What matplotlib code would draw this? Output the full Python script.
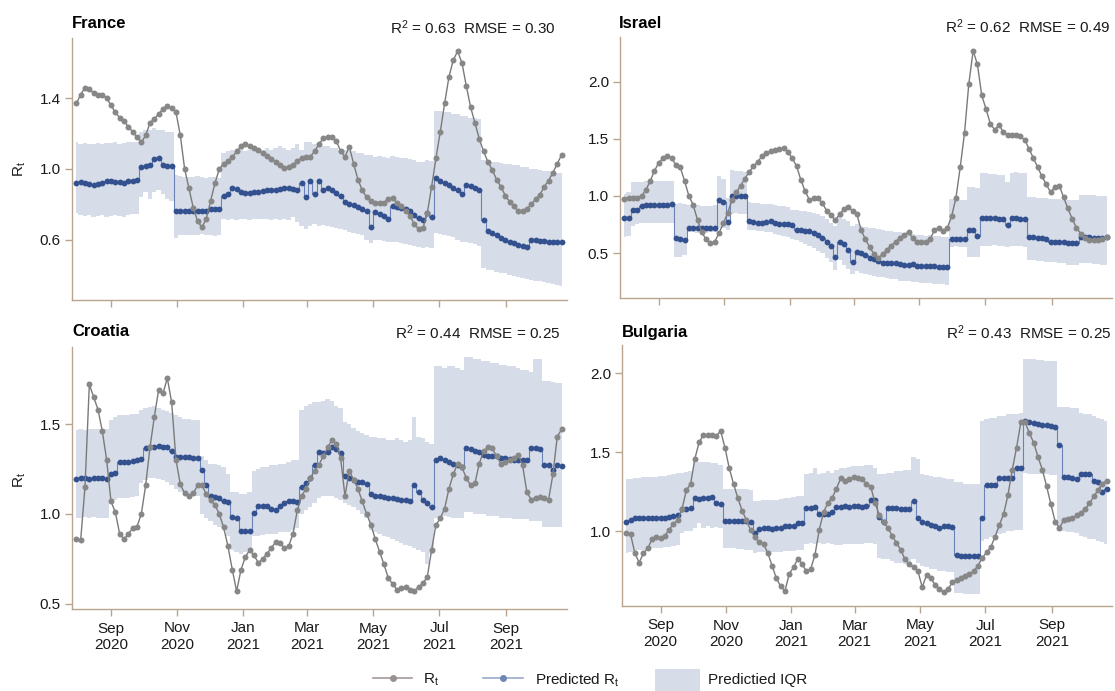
import numpy as np
import pandas as pd
import matplotlib
matplotlib.use("Agg")
import matplotlib.pyplot as plt
from matplotlib.lines import Line2D
from matplotlib.patches import Rectangle

plt.rcParams["font.family"] = ["Liberation Sans", "DejaVu Sans"]
plt.rcParams["mathtext.fontset"] = "custom"
plt.rcParams["mathtext.rm"] = "Liberation Sans"
plt.rcParams["mathtext.it"] = "Liberation Sans"
plt.rcParams["mathtext.default"] = "regular"

# ---------------------------------------------------------------- data
dates = pd.date_range("2020-07-31", periods=113, freq="4D")

france_rt = [
    1.37, 1.42, 1.46, 1.45, 1.43, 1.42, 1.42, 1.40, 1.36, 1.32,
    1.29, 1.27, 1.24, 1.21, 1.18, 1.15, 1.19, 1.26, 1.285, 1.31,
    1.34, 1.355, 1.345, 1.32, 1.19, 1.00, 0.89, 0.78, 0.705, 0.67,
    0.72, 0.82, 0.92, 1.00, 1.03, 1.045, 1.065, 1.10, 1.128, 1.14,
    1.13, 1.12, 1.105, 1.09, 1.075, 1.055, 1.04, 1.02, 1.005, 1.01,
    1.025, 1.045, 1.06, 1.065, 1.07, 1.10, 1.14, 1.175, 1.18, 1.18,
    1.16, 1.10, 1.07, 1.125, 1.03, 0.94, 0.88, 0.84, 0.82, 0.81,
    0.81, 0.81, 0.83, 0.835, 0.81, 0.79, 0.765, 0.735, 0.69, 0.66,
    0.665, 0.75, 0.90, 1.06, 1.21, 1.37, 1.52, 1.615, 1.665, 1.60,
    1.47, 1.35, 1.26, 1.17, 1.10, 1.04, 0.995, 0.94, 0.90, 0.85,
    0.815, 0.79, 0.76, 0.765, 0.775, 0.80, 0.83, 0.855, 0.90, 0.935,
    0.98, 1.03, 1.08]
france_pred = [
    0.92, 0.925, 0.92, 0.915, 0.91, 0.915, 0.92, 0.93, 0.935, 0.925,
    0.925, 0.92, 0.93, 0.935, 0.94, 1.01, 1.015, 1.02, 1.055, 1.06,
    1.02, 1.015, 1.015, 0.765, 0.76, 0.76, 0.76, 0.76, 0.76, 0.76,
    0.76, 0.775, 0.775, 0.775, 0.85, 0.86, 0.89, 0.885, 0.87, 0.865,
    0.865, 0.87, 0.87, 0.875, 0.88, 0.88, 0.88, 0.885, 0.895, 0.89,
    0.885, 0.88, 0.92, 0.84, 0.93, 0.86, 0.93, 0.88, 0.89, 0.88,
    0.865, 0.85, 0.815, 0.805, 0.795, 0.785, 0.775, 0.765, 0.67, 0.755,
    0.745, 0.735, 0.72, 0.79, 0.785, 0.78, 0.775, 0.765, 0.74, 0.725,
    0.71, 0.75, 0.73, 0.95, 0.935, 0.92, 0.91, 0.895, 0.88, 0.86,
    0.91, 0.905, 0.895, 0.88, 0.71, 0.65, 0.64, 0.625, 0.61, 0.60,
    0.59, 0.58, 0.57, 0.565, 0.56, 0.60, 0.60, 0.595, 0.595, 0.59,
    0.59, 0.585, 0.585]
france_iqr_hi = [
    1.15, 1.14, 1.145, 1.14, 1.14, 1.145, 1.14, 1.145, 1.145, 1.15,
    1.14, 1.145, 1.15, 1.15, 1.15, 1.21, 1.22, 1.22, 1.23, 1.22,
    1.22, 1.21, 1.21, 0.965, 0.96, 0.955, 0.955, 0.955, 0.96, 0.955,
    0.95, 0.955, 0.955, 0.95, 1.09, 1.10, 1.11, 1.10, 1.12, 1.10,
    1.11, 1.12, 1.10, 1.11, 1.12, 1.11, 1.12, 1.13, 1.12, 1.11,
    1.12, 1.14, 1.11, 1.15, 1.15, 1.14, 1.14, 1.13, 1.13, 1.12,
    1.12, 1.11, 1.11, 1.10, 1.10, 1.09, 1.09, 1.08, 1.08, 1.07,
    1.075, 1.065, 1.06, 1.075, 1.07, 1.06, 1.06, 1.055, 1.05, 1.04,
    1.04, 1.05, 1.045, 1.33, 1.33, 1.32, 1.32, 1.31, 1.31, 1.30,
    1.30, 1.29, 1.29, 1.28, 1.05, 1.05, 1.04, 1.04, 1.035, 1.03,
    1.03, 1.02, 1.02, 1.01, 1.01, 1.00, 1.00, 0.995, 0.99, 0.99,
    0.985, 0.98, 0.975]
france_iqr_lo = [
    0.75, 0.74, 0.735, 0.74, 0.73, 0.735, 0.74, 0.73, 0.735, 0.74,
    0.735, 0.73, 0.74, 0.745, 0.745, 0.84, 0.87, 0.83, 0.87, 0.88,
    0.86, 0.83, 0.82, 0.61, 0.625, 0.63, 0.63, 0.625, 0.63, 0.635,
    0.63, 0.63, 0.62, 0.63, 0.72, 0.71, 0.72, 0.71, 0.72, 0.72,
    0.71, 0.72, 0.72, 0.715, 0.72, 0.71, 0.72, 0.71, 0.72, 0.71,
    0.73, 0.70, 0.68, 0.66, 0.68, 0.69, 0.68, 0.685, 0.68, 0.67,
    0.665, 0.66, 0.655, 0.645, 0.64, 0.635, 0.625, 0.60, 0.58, 0.60,
    0.60, 0.595, 0.59, 0.59, 0.585, 0.58, 0.575, 0.57, 0.565, 0.56,
    0.555, 0.56, 0.555, 0.64, 0.635, 0.63, 0.62, 0.615, 0.60, 0.59,
    0.59, 0.58, 0.575, 0.565, 0.44, 0.43, 0.43, 0.42, 0.41, 0.41,
    0.40, 0.395, 0.39, 0.385, 0.38, 0.375, 0.37, 0.365, 0.36, 0.355,
    0.35, 0.345, 0.34]

israel_rt = [
    0.97, 0.98, 0.98, 0.985, 1.00, 1.05, 1.13, 1.22, 1.29, 1.33,
    1.35, 1.33, 1.27, 1.25, 1.13, 1.00, 0.92, 0.79, 0.68, 0.62,
    0.585, 0.60, 0.675, 0.76, 0.85, 0.965, 1.03, 1.09, 1.15, 1.21,
    1.26, 1.30, 1.35, 1.375, 1.39, 1.405, 1.41, 1.415, 1.385, 1.33,
    1.26, 1.14, 1.04, 0.965, 0.98, 0.98, 0.935, 0.87, 0.83, 0.79,
    0.84, 0.885, 0.905, 0.87, 0.84, 0.70, 0.62, 0.55, 0.49, 0.46,
    0.49, 0.53, 0.565, 0.60, 0.63, 0.66, 0.68, 0.63, 0.60, 0.60,
    0.595, 0.62, 0.70, 0.72, 0.69, 0.72, 0.82, 0.98, 1.25, 1.55,
    1.98, 2.27, 2.15, 1.88, 1.76, 1.63, 1.58, 1.62, 1.56, 1.53,
    1.535, 1.535, 1.52, 1.49, 1.41, 1.33, 1.25, 1.17, 1.10, 1.03,
    1.08, 1.09, 0.99, 0.89, 0.80, 0.72, 0.67, 0.635, 0.61, 0.61,
    0.615, 0.62, 0.64]
israel_pred = [
    0.805, 0.81, 0.875, 0.88, 0.915, 0.92, 0.92, 0.92, 0.92, 0.92,
    0.92, 0.925, 0.63, 0.625, 0.61, 0.72, 0.72, 0.72, 0.72, 0.72,
    0.72, 0.72, 0.96, 0.945, 0.77, 1.00, 1.00, 1.00, 1.00, 0.78,
    0.775, 0.765, 0.76, 0.775, 0.78, 0.765, 0.755, 0.75, 0.75, 0.745,
    0.705, 0.70, 0.695, 0.69, 0.675, 0.66, 0.635, 0.60, 0.56, 0.47,
    0.60, 0.58, 0.53, 0.42, 0.51, 0.50, 0.48, 0.46, 0.445, 0.43,
    0.415, 0.41, 0.41, 0.41, 0.405, 0.40, 0.40, 0.405, 0.39, 0.39,
    0.39, 0.385, 0.385, 0.38, 0.38, 0.38, 0.62, 0.62, 0.62, 0.62,
    0.70, 0.70, 0.65, 0.805, 0.805, 0.805, 0.805, 0.80, 0.80, 0.745,
    0.805, 0.805, 0.80, 0.80, 0.64, 0.64, 0.635, 0.63, 0.625, 0.60,
    0.60, 0.595, 0.595, 0.59, 0.59, 0.59, 0.64, 0.64, 0.64, 0.635,
    0.635, 0.635, 0.64]
israel_iqr_hi = [
    1.02, 1.03, 1.12, 1.12, 1.125, 1.13, 1.13, 1.13, 1.13, 1.13,
    1.13, 1.13, 0.93, 0.94, 0.93, 0.92, 0.91, 0.92, 0.91, 0.91,
    0.91, 0.92, 1.17, 1.15, 0.98, 1.23, 1.22, 1.22, 1.21, 0.95,
    0.94, 0.94, 0.93, 0.93, 0.925, 0.92, 0.91, 0.91, 0.90, 0.88,
    0.88, 0.87, 0.87, 0.86, 0.85, 0.84, 0.82, 0.80, 0.76, 0.74,
    0.82, 0.80, 0.78, 0.74, 0.75, 0.74, 0.73, 0.72, 0.72, 0.71,
    0.70, 0.69, 0.69, 0.68, 0.68, 0.67, 0.68, 0.67, 0.66, 0.66,
    0.65, 0.66, 0.65, 0.65, 0.64, 0.64, 0.97, 0.97, 0.96, 0.96,
    1.08, 1.08, 1.07, 1.20, 1.20, 1.19, 1.19, 1.18, 1.18, 1.12,
    1.20, 1.21, 1.20, 1.20, 0.99, 0.99, 0.98, 0.98, 0.98, 0.975,
    0.97, 0.97, 0.965, 0.965, 0.96, 0.96, 1.01, 1.01, 1.005, 1.005,
    1.00, 1.00, 0.995]
israel_iqr_lo = [
    0.64, 0.65, 0.74, 0.75, 0.76, 0.76, 0.76, 0.76, 0.765, 0.76,
    0.765, 0.76, 0.47, 0.47, 0.48, 0.68, 0.68, 0.675, 0.68, 0.675,
    0.68, 0.68, 0.72, 0.72, 0.70, 0.84, 0.85, 0.84, 0.84, 0.70,
    0.70, 0.69, 0.69, 0.68, 0.68, 0.67, 0.66, 0.65, 0.64, 0.62,
    0.61, 0.60, 0.58, 0.56, 0.54, 0.52, 0.50, 0.46, 0.42, 0.35,
    0.44, 0.40, 0.36, 0.32, 0.34, 0.33, 0.32, 0.31, 0.30, 0.29,
    0.29, 0.28, 0.27, 0.27, 0.26, 0.26, 0.26, 0.25, 0.25, 0.24,
    0.24, 0.24, 0.23, 0.23, 0.23, 0.22, 0.55, 0.56, 0.55, 0.55,
    0.47, 0.47, 0.47, 0.56, 0.56, 0.56, 0.57, 0.56, 0.56, 0.55,
    0.56, 0.56, 0.56, 0.55, 0.44, 0.44, 0.43, 0.43, 0.42, 0.42,
    0.42, 0.41, 0.41, 0.40, 0.40, 0.40, 0.41, 0.41, 0.41, 0.405,
    0.405, 0.40, 0.40]

croatia_rt = [
    0.86, 0.855, 1.15, 1.72, 1.65, 1.58, 1.46, 1.30, 1.07, 1.01,
    0.89, 0.86, 0.89, 0.92, 0.93, 1.00, 1.16, 1.37, 1.54, 1.69,
    1.67, 1.755, 1.62, 1.30, 1.165, 1.115, 1.10, 1.115, 1.16, 1.16,
    1.11, 1.075, 1.05, 1.00, 0.925, 0.82, 0.69, 0.57, 0.69, 0.76,
    0.80, 0.77, 0.73, 0.75, 0.78, 0.81, 0.845, 0.84, 0.81, 0.82,
    0.89, 1.02, 1.10, 1.14, 1.20, 1.24, 1.275, 1.32, 1.37, 1.41,
    1.39, 1.31, 1.10, 1.24, 1.19, 1.14, 1.07, 1.00, 0.94, 0.86,
    0.79, 0.72, 0.645, 0.61, 0.58, 0.59, 0.595, 0.58, 0.57, 0.595,
    0.615, 0.65, 0.80, 0.94, 0.975, 1.03, 1.14, 1.22, 1.28, 1.26,
    1.20, 1.16, 1.17, 1.28, 1.35, 1.37, 1.365, 1.32, 1.28, 1.29,
    1.30, 1.31, 1.33, 1.27, 1.12, 1.08, 1.09, 1.095, 1.09, 1.08,
    1.22, 1.43, 1.47]
croatia_pred = [
    1.195, 1.20, 1.20, 1.195, 1.20, 1.20, 1.20, 1.195, 1.22, 1.23,
    1.29, 1.29, 1.29, 1.295, 1.30, 1.305, 1.365, 1.37, 1.375, 1.38,
    1.375, 1.37, 1.35, 1.315, 1.315, 1.315, 1.315, 1.31, 1.31, 1.245,
    1.16, 1.10, 1.095, 1.09, 1.07, 1.065, 0.985, 0.98, 0.905, 0.905,
    0.905, 1.005, 1.045, 1.045, 1.045, 1.025, 1.02, 1.045, 1.06, 1.07,
    1.07, 1.065, 1.15, 1.17, 1.20, 1.27, 1.345, 1.34, 1.345, 1.37,
    1.36, 1.34, 1.21, 1.20, 1.19, 1.18, 1.175, 1.165, 1.11, 1.10,
    1.10, 1.095, 1.09, 1.09, 1.085, 1.08, 1.08, 1.07, 1.16, 1.12,
    1.08, 1.06, 1.04, 1.30, 1.31, 1.30, 1.29, 1.28, 1.27, 1.26,
    1.365, 1.36, 1.35, 1.345, 1.33, 1.325, 1.32, 1.32, 1.31, 1.31,
    1.305, 1.30, 1.30, 1.30, 1.30, 1.365, 1.365, 1.36, 1.27, 1.27,
    1.245, 1.27, 1.265]
croatia_iqr_hi = [
    1.465, 1.47, 1.465, 1.47, 1.47, 1.47, 1.475, 1.47, 1.52, 1.54,
    1.55, 1.55, 1.55, 1.555, 1.555, 1.58, 1.59, 1.595, 1.60, 1.59,
    1.58, 1.575, 1.56, 1.55, 1.54, 1.53, 1.53, 1.52, 1.52, 1.32,
    1.30, 1.28, 1.28, 1.27, 1.26, 1.22, 1.12, 1.12, 1.11, 1.11,
    1.12, 1.24, 1.25, 1.26, 1.26, 1.27, 1.27, 1.28, 1.28, 1.29,
    1.30, 1.30, 1.58, 1.60, 1.61, 1.62, 1.62, 1.63, 1.64, 1.63,
    1.60, 1.59, 1.51, 1.50, 1.48, 1.46, 1.45, 1.44, 1.43, 1.43,
    1.42, 1.42, 1.41, 1.41, 1.42, 1.41, 1.40, 1.41, 1.54, 1.43,
    1.42, 1.40, 1.39, 1.82, 1.82, 1.81, 1.82, 1.82, 1.81, 1.80,
    1.87, 1.87, 1.86, 1.86, 1.85, 1.85, 1.84, 1.84, 1.83, 1.83,
    1.82, 1.82, 1.81, 1.80, 1.80, 1.79, 1.86, 1.86, 1.74, 1.74,
    1.735, 1.73, 1.73]
croatia_iqr_lo = [
    0.975, 0.98, 0.985, 0.98, 0.985, 0.975, 0.98, 0.98, 1.06, 1.08,
    1.09, 1.09, 1.09, 1.095, 1.10, 1.17, 1.19, 1.20, 1.20, 1.195,
    1.19, 1.18, 1.16, 1.14, 1.12, 1.12, 1.11, 1.11, 1.10, 1.00,
    0.98, 0.96, 0.94, 0.93, 0.92, 0.88, 0.80, 0.79, 0.78, 0.79,
    0.80, 0.88, 0.88, 0.885, 0.89, 0.89, 0.89, 0.90, 0.90, 0.90,
    0.91, 0.92, 1.00, 1.02, 1.04, 1.06, 1.09, 1.10, 1.10, 1.10,
    1.09, 1.08, 1.06, 1.05, 1.04, 1.02, 1.00, 0.98, 0.91, 0.90,
    0.89, 0.88, 0.87, 0.86, 0.85, 0.84, 0.83, 0.82, 0.81, 0.80,
    0.79, 0.72, 0.78, 0.98, 0.985, 0.99, 0.985, 0.98, 0.98, 0.975,
    1.01, 1.01, 1.00, 1.00, 1.00, 0.99, 0.99, 0.99, 0.98, 0.98,
    0.98, 0.97, 0.97, 0.97, 0.97, 0.96, 0.96, 0.96, 0.93, 0.93,
    0.93, 0.925, 0.925]

bulgaria_rt = [
    0.985, 0.98, 0.86, 0.80, 0.86, 0.89, 0.95, 0.96, 0.955, 0.97,
    1.01, 1.045, 1.07, 1.14, 1.26, 1.30, 1.46, 1.565, 1.61, 1.61,
    1.61, 1.605, 1.635, 1.53, 1.40, 1.30, 1.21, 1.13, 1.07, 1.005,
    0.96, 0.93, 0.92, 0.86, 0.78, 0.70, 0.65, 0.62, 0.73, 0.77,
    0.825, 0.79, 0.745, 0.76, 0.85, 1.01, 1.12, 1.18, 1.21, 1.27,
    1.335, 1.32, 1.33, 1.34, 1.335, 1.33, 1.30, 1.28, 1.18, 1.10,
    1.06, 1.02, 0.97, 0.925, 0.88, 0.82, 0.79, 0.77, 0.745, 0.645,
    0.72, 0.70, 0.66, 0.63, 0.615, 0.63, 0.675, 0.69, 0.70, 0.715,
    0.73, 0.745, 0.78, 0.83, 0.865, 0.90, 0.965, 1.04, 1.11, 1.23,
    1.39, 1.53, 1.69, 1.69, 1.62, 1.56, 1.47, 1.39, 1.285, 1.17,
    1.06, 1.02, 1.07, 1.075, 1.08, 1.10, 1.115, 1.14, 1.175, 1.22,
    1.26, 1.30, 1.32]
bulgaria_pred = [
    1.055, 1.07, 1.08, 1.08, 1.085, 1.085, 1.085, 1.08, 1.085, 1.085,
    1.09, 1.095, 1.10, 1.14, 1.14, 1.145, 1.21, 1.205, 1.21, 1.21,
    1.215, 1.18, 1.17, 1.065, 1.065, 1.065, 1.065, 1.065, 1.065, 1.06,
    0.99, 1.015, 1.02, 1.02, 1.015, 1.02, 1.02, 1.03, 1.03, 1.03,
    1.05, 1.05, 1.145, 1.145, 1.15, 1.11, 1.11, 1.11, 1.12, 1.155,
    1.155, 1.16, 1.155, 1.16, 1.16, 1.155, 1.16, 1.20, 1.20, 1.09,
    1.06, 1.145, 1.145, 1.145, 1.14, 1.14, 1.14, 1.19, 1.085, 1.055,
    1.05, 1.04, 1.03, 1.02, 1.03, 1.03, 1.025, 0.85, 0.845, 0.84,
    0.84, 0.845, 0.845, 1.08, 1.29, 1.29, 1.295, 1.335, 1.335, 1.335,
    1.335, 1.40, 1.40, 1.70, 1.69, 1.685, 1.68, 1.675, 1.67, 1.665,
    1.66, 1.545, 1.34, 1.34, 1.335, 1.33, 1.365, 1.365, 1.36, 1.315,
    1.31, 1.25, 1.27]
bulgaria_iqr_hi = [
    1.33, 1.33, 1.335, 1.335, 1.34, 1.34, 1.345, 1.345, 1.35, 1.35,
    1.355, 1.36, 1.37, 1.37, 1.375, 1.38, 1.43, 1.44, 1.44, 1.435,
    1.43, 1.43, 1.42, 1.27, 1.27, 1.27, 1.27, 1.265, 1.265, 1.26,
    1.19, 1.19, 1.195, 1.20, 1.20, 1.20, 1.205, 1.21, 1.21, 1.215,
    1.22, 1.22, 1.36, 1.37, 1.40, 1.36, 1.37, 1.38, 1.37, 1.39,
    1.40, 1.40, 1.405, 1.41, 1.41, 1.415, 1.42, 1.42, 1.40, 1.36,
    1.36, 1.37, 1.37, 1.38, 1.38, 1.39, 1.39, 1.47, 1.46, 1.36,
    1.355, 1.35, 1.345, 1.34, 1.335, 1.33, 1.33, 1.31, 1.31, 1.30,
    1.30, 1.30, 1.30, 1.70, 1.71, 1.72, 1.72, 1.73, 1.73, 1.74,
    1.74, 1.745, 1.75, 2.09, 2.09, 2.09, 2.085, 2.085, 2.08, 2.08,
    2.08, 1.79, 1.79, 1.785, 1.78, 1.78, 1.75, 1.74, 1.74, 1.73,
    1.72, 1.71, 1.70]
bulgaria_iqr_lo = [
    0.86, 0.87, 0.875, 0.88, 0.88, 0.885, 0.89, 0.89, 0.895, 0.90,
    0.90, 0.905, 0.91, 0.99, 1.00, 1.00, 1.02, 1.05, 1.02, 1.03,
    1.02, 1.025, 1.02, 0.89, 0.89, 0.89, 0.885, 0.885, 0.88, 0.88,
    0.86, 0.865, 0.865, 0.87, 0.87, 0.87, 0.87, 0.875, 0.875, 0.875,
    0.88, 0.88, 0.92, 0.925, 0.92, 0.925, 0.92, 0.925, 0.92, 0.91,
    0.91, 0.915, 0.915, 0.92, 0.92, 0.92, 0.925, 0.925, 0.92, 0.83,
    0.82, 0.82, 0.81, 0.80, 0.80, 0.79, 0.79, 0.82, 0.80, 0.78,
    0.77, 0.76, 0.76, 0.75, 0.75, 0.74, 0.74, 0.61, 0.61, 0.60,
    0.60, 0.60, 0.60, 0.94, 0.95, 0.96, 0.97, 0.98, 0.99, 1.00,
    1.00, 1.01, 1.01, 1.37, 1.365, 1.365, 1.36, 1.36, 1.36, 1.355,
    1.355, 1.00, 1.00, 0.995, 0.995, 0.99, 0.97, 0.96, 0.95, 0.95,
    0.94, 0.93, 0.92]

countries = ["France", "Israel", "Croatia", "Bulgaria"]
r2_values = [0.63, 0.62, 0.44, 0.43]
rmse_values = [0.30, 0.49, 0.25, 0.25]
y_ticks = [[0.6, 1.0, 1.4], [0.5, 1.0, 1.5, 2.0], [0.5, 1.0, 1.5], [1.0, 1.5, 2.0]]
x_tick_dates = ["2020-09-01", "2020-11-01", "2021-01-01", "2021-03-01",
                "2021-05-01", "2021-07-01", "2021-09-01"]
x_tick_labels = ["Sep\n2020", "Nov\n2020", "Jan\n2021", "Mar\n2021",
                 "May\n2021", "Jul\n2021", "Sep\n2021"]

series = {
    "France": (france_rt, france_pred, france_iqr_lo, france_iqr_hi),
    "Israel": (israel_rt, israel_pred, israel_iqr_lo, israel_iqr_hi),
    "Croatia": (croatia_rt, croatia_pred, croatia_iqr_lo, croatia_iqr_hi),
    "Bulgaria": (bulgaria_rt, bulgaria_pred, bulgaria_iqr_lo, bulgaria_iqr_hi),
}

# ---------------------------------------------------------------- style
W, H = 1115, 691
SPINE = "#b9a58f"
GREY = "#878787"
BLUE = "#33508f"
BLUE_LINE = "#6a82b6"
IQR = "#d6dce8"
TEXT = "#1a1a1a"


def fx(px):
    return px / W


def fy(py):
    return 1 - py / H


# axes boxes in pixels: left, top, right, bottom
boxes = {
    "France": (72, 38, 567, 300),
    "Israel": (620, 37, 1112, 298),
    "Croatia": (72, 347, 567, 609),
    "Bulgaria": (622, 345, 1112, 606),
}
ylims = {"France": (0.26, 1.74), "Israel": (0.107, 2.39),
         "Croatia": (0.472, 1.928), "Bulgaria": (0.525, 2.18)}
title_pos = {"France": (72, 23), "Israel": (619, 23),
             "Croatia": (72, 331), "Bulgaria": (622, 333)}
stat_pos = {"France": (556, 28), "Israel": (1110, 27),
            "Croatia": (561, 333), "Bulgaria": (1112, 333)}
ylabel_pos = {"France": (20, 169), "Croatia": (20, 480)}

fig = plt.figure(figsize=(W / 100, H / 100), dpi=100)

for i, name in enumerate(countries):
    l, t, r, b = boxes[name]
    ax = fig.add_axes([fx(l), fy(b), (r - l) / W, (b - t) / H])
    rt, pred, lo, hi = series[name]

    ax.fill_between(dates, lo, hi, step="mid", color=IQR, lw=0, zorder=1)
    ax.plot(dates, pred, drawstyle="steps-mid", color=BLUE_LINE, lw=0.8, zorder=2)
    ax.plot(dates, pred, ls="none", marker="o", ms=4.2, mfc=BLUE, mec=BLUE,
            mew=0, zorder=3)
    ax.plot(dates, rt, color="#7a7a7a", lw=1.0, marker="o", ms=4.3,
            mfc=GREY, mec=GREY, mew=0, zorder=4)

    ax.set_xlim(pd.Timestamp("2020-07-27"), pd.Timestamp("2021-10-27"))
    ax.set_ylim(*ylims[name])
    ax.set_yticks(y_ticks[i])
    ax.set_yticklabels([f"{v:.1f}" for v in y_ticks[i]])
    ax.set_xticks(pd.to_datetime(x_tick_dates))
    if i >= 2:
        ax.set_xticklabels(x_tick_labels)
    else:
        ax.set_xticklabels([])

    for side in ("top", "right"):
        ax.spines[side].set_visible(False)
    for side in ("left", "bottom"):
        ax.spines[side].set_color(SPINE)
        ax.spines[side].set_linewidth(1.0)
    ax.tick_params(axis="both", direction="out", length=5, width=1.0,
                   color=SPINE, labelcolor=TEXT, labelsize=11, pad=3)
    ax.tick_params(axis="x", pad=4)
    ax.patch.set_alpha(0)

    tx, ty = title_pos[name]
    fig.text(fx(tx), fy(ty), name, fontsize=12, fontweight="bold",
             color="black", ha="left", va="center")
    sx, sy = stat_pos[name]
    fig.text(fx(sx), fy(sy),
             f"R$^2$ = {r2_values[i]:.2f}  RMSE = {rmse_values[i]:.2f}",
             fontsize=11, color=TEXT, ha="right", va="center")
    if name in ylabel_pos:
        lx, ly = ylabel_pos[name]
        fig.text(fx(lx), fy(ly), "$R_t$", fontsize=11, color=TEXT,
                 rotation=90, ha="center", va="center")

# ---------------------------------------------------------------- legend
ly = 678
fig.add_artist(Line2D([fx(373), fx(412)], [fy(ly), fy(ly)], color="#a39a9a",
                      lw=1.2, transform=fig.transFigure))
fig.add_artist(Line2D([fx(392.5)], [fy(ly)], ls="none", marker="o", ms=4,
                      mfc="#9a9090", mec="#9a9090", transform=fig.transFigure))
fig.text(fx(423), fy(680), "$R_t$", fontsize=11, color=TEXT, va="center")

fig.add_artist(Line2D([fx(483), fx(523)], [fy(ly), fy(ly)], color="#9aaacc",
                      lw=1.2, transform=fig.transFigure))
fig.add_artist(Line2D([fx(503)], [fy(ly)], ls="none", marker="o", ms=4,
                      mfc="#7186b5", mec="#7186b5", transform=fig.transFigure))
fig.text(fx(535), fy(680), "Predicted $R_t$", fontsize=11, color=TEXT,
         va="center")

fig.add_artist(Rectangle((fx(655), 0), fx(700) - fx(655), fy(669),
                         color=IQR, lw=0, transform=fig.transFigure))
fig.text(fx(708), fy(680), "Predictied IQR", fontsize=11, color=TEXT,
         va="center")

fig.savefig("out.png", dpi=100)
